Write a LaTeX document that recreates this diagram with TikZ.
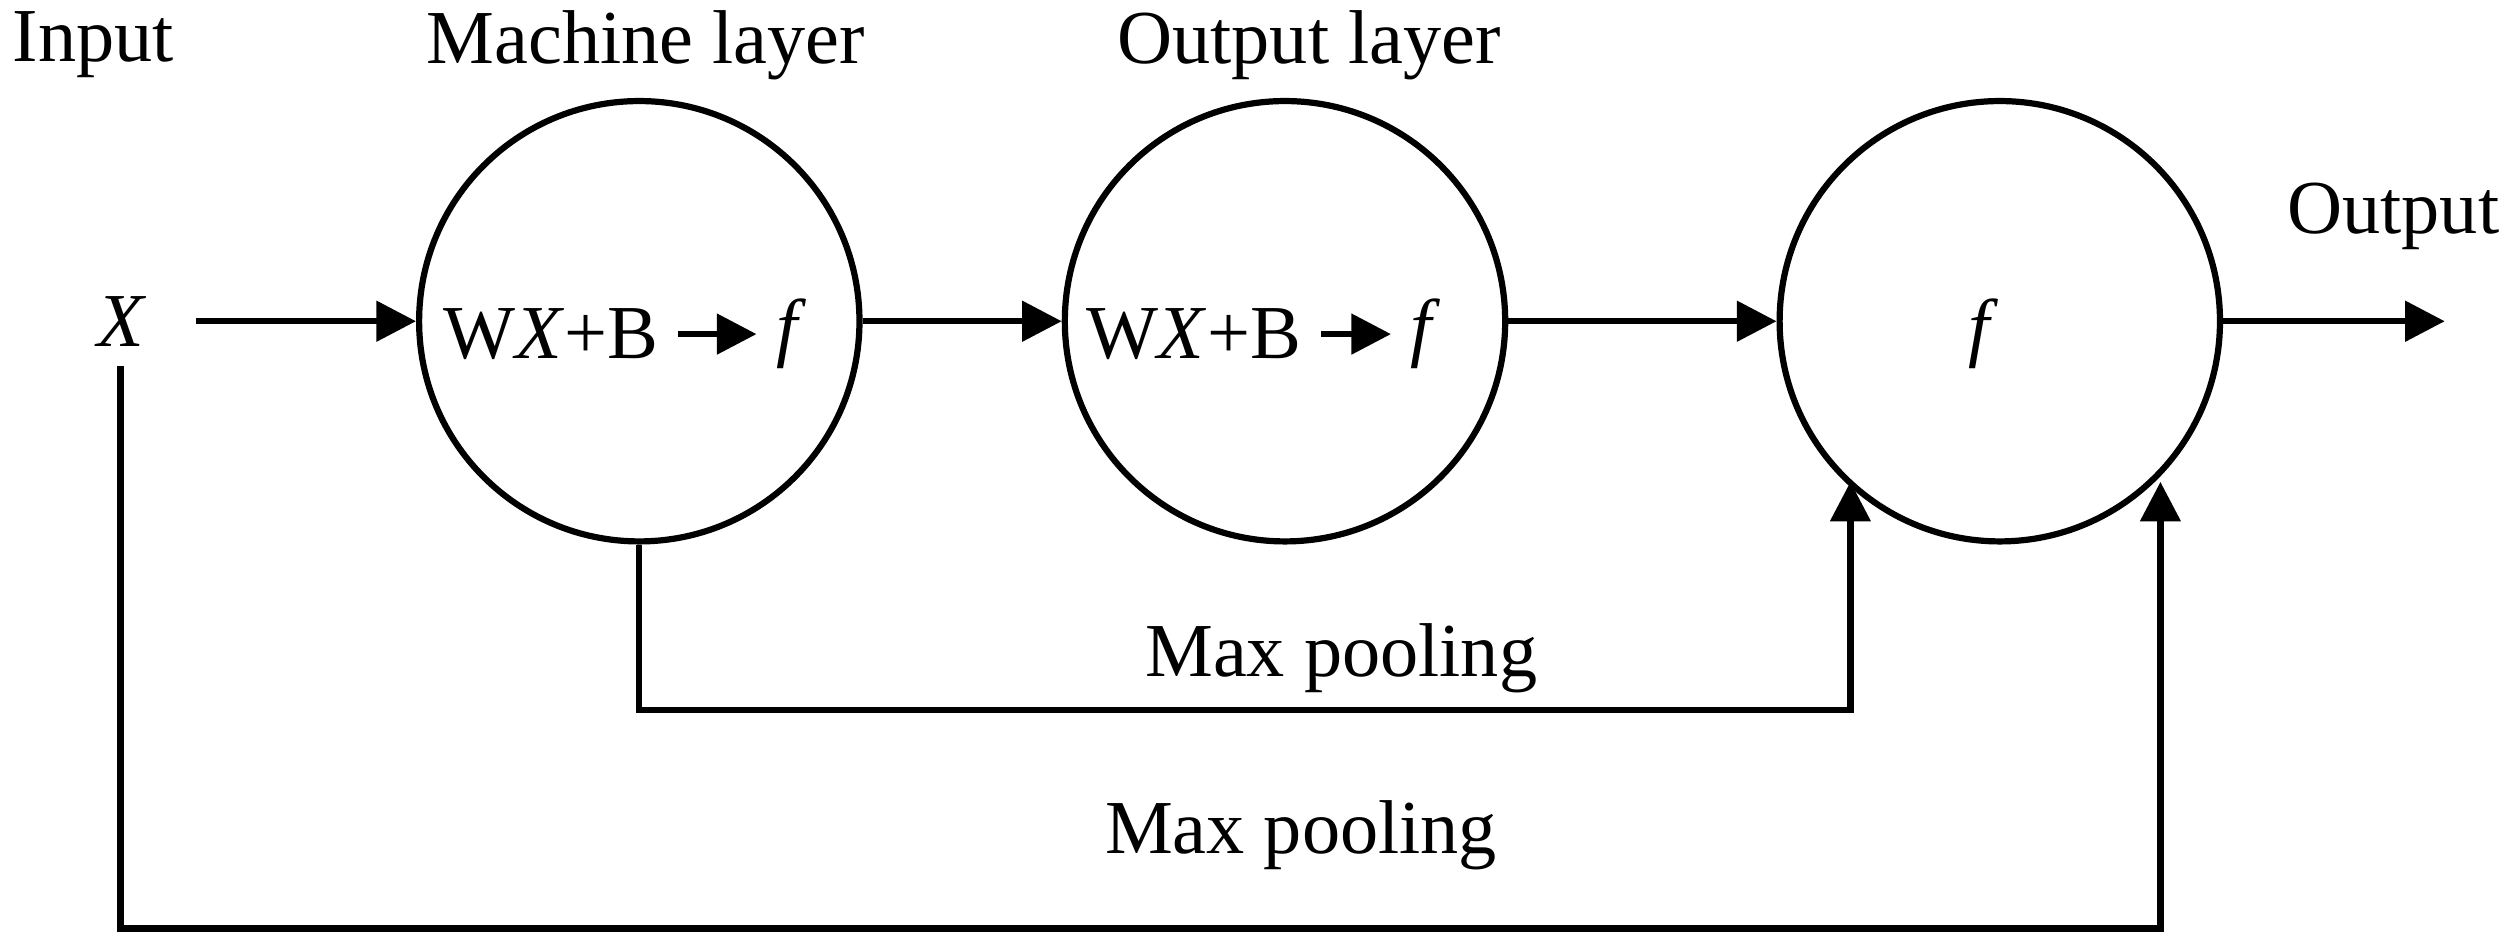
\documentclass[tikz,border=0pt]{standalone}
\usepackage{fontspec}
\setmainfont{Liberation Serif}
\usetikzlibrary{arrows.meta}
\begin{document}
\begin{tikzpicture}[x=0.01cm,y=-0.01cm,
  every node/.style={font=\fontsize{13.5}{16}\selectfont},
  neuron/.style={draw,circle,line width=1.1pt,minimum size=2.74cm,inner sep=0pt},
  arr/.style={line width=1.1pt,-{Triangle[length=7pt,width=7pt]}},
  ln/.style={line width=1.1pt}]
\useasboundingbox (0,0) rectangle (1562,586);
\node (in) at (58,28) {Input};
\node (ml) at (402,28) {Machine layer};
\node (ol) at (815,28) {Output layer};
\node (out) at (1490,135) {Output};
\node (x) at (75,200) {\itshape X};
\node[neuron] (c1) at (398,200) {};
\node[neuron] (c2) at (800,200) {};
\node[neuron] (c3) at (1245,200) {};
\node (w1) at (343,208) {W\textit{X}+B};
\node (f1) at (490,208) {\itshape f};
\node (w2) at (743,208) {W\textit{X}+B};
\node (f2) at (885,208) {\itshape f};
\node (f3) at (1232,208) {\itshape f};
\coordinate (oe) at (1522,200);
\draw[arr] (x.east)+(20,0) -- (c1.west);
\draw[arr] (w1.east) -- (f1.west);
\draw[arr] (w2.east) -- (f2.west);
\draw[arr] (c1.east) -- (c2.west);
\draw[arr] (c2.east) -- (c3.west);
\draw[arr] (c3.east) -- (oe);
\coordinate (p1) at (1152,442);
\coordinate (p2) at (75,578);
\coordinate (p3) at (1345,578);
\draw[arr] (c1.south) -- (c1.south |- p1) -- (p1) -- (1152,300);
\draw[arr] (x.south) -- (p2) -- (p3) -- (1345,300);
\node (mp1) at (835,410) {Max pooling};
\node (mp2) at (810,520) {Max pooling};
\end{tikzpicture}
\end{document}
